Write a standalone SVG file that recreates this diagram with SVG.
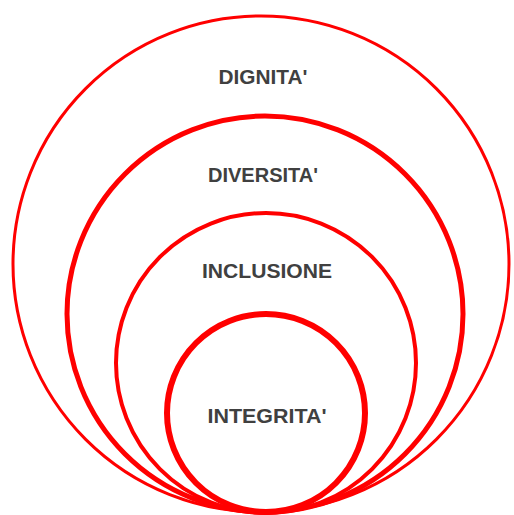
<svg xmlns="http://www.w3.org/2000/svg" width="514" height="515" viewBox="0 0 514 515">
<style>
.ring{fill:none;stroke:#ff0000}
.lbl{font-family:"Liberation Sans",Arial,sans-serif;font-weight:bold;font-size:21px;fill:#404040;text-anchor:middle}
</style>
<rect width="514" height="515" fill="#ffffff"/>
<g id="dignita">
<circle class="ring" cx="261" cy="264" r="248" stroke-width="3"/>
<text class="lbl" x="263" y="84" textLength="89" lengthAdjust="spacingAndGlyphs">DIGNITA'</text>
</g>
<g id="diversita">
<circle class="ring" cx="265" cy="314" r="198" stroke-width="5"/>
<text class="lbl" x="263" y="182" textLength="110" lengthAdjust="spacingAndGlyphs">DIVERSITA'</text>
</g>
<g id="inclusione">
<circle class="ring" cx="266" cy="363" r="150" stroke-width="4"/>
<text class="lbl" x="267" y="278" textLength="130" lengthAdjust="spacingAndGlyphs">INCLUSIONE</text>
</g>
<g id="integrita">
<circle class="ring" cx="266" cy="413" r="99" stroke-width="6"/>
<text class="lbl" x="267" y="423" textLength="119" lengthAdjust="spacingAndGlyphs">INTEGRITA'</text>
</g>
</svg>
